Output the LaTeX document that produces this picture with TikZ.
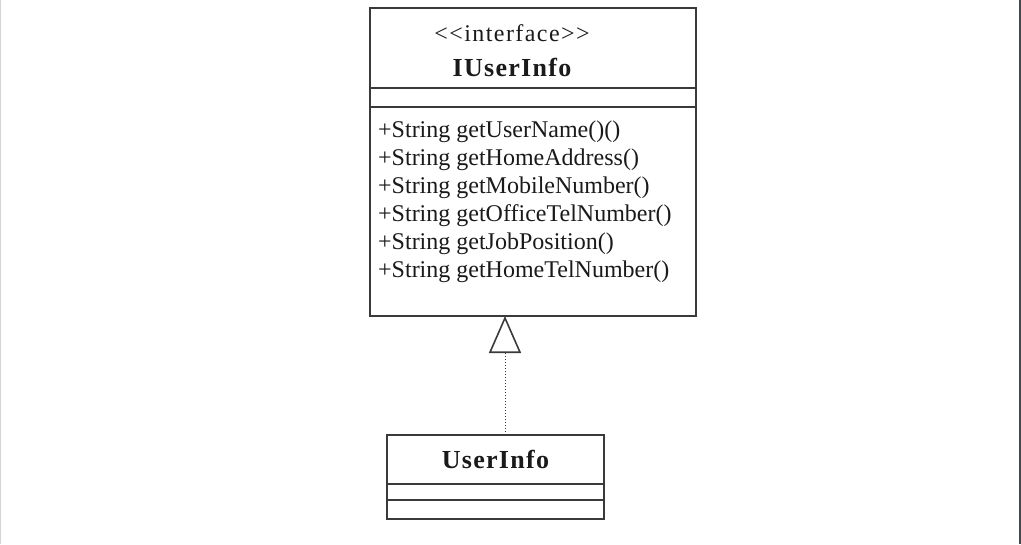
\documentclass[tikz,border=0pt]{standalone}
\usepackage{xcolor}
\usepackage{fontspec}
\setmainfont{Liberation Serif}
\usetikzlibrary{positioning,arrows.meta}
\definecolor{UInk}{HTML}{1A1A1A}
\definecolor{ULine}{HTML}{3A3A3A}
\definecolor{UFrame}{HTML}{D4D4D4}
\definecolor{UEdge}{HTML}{45484B}

\begin{document}
\begin{tikzpicture}[x=1pt, y=-1pt,
  classbox/.style={draw=ULine, line width=1.5pt, minimum width=#1, inner sep=0pt, outer sep=0pt},
  realize/.style={draw=ULine, line width=0.9pt, dash pattern=on 1pt off 2pt,
    -{Triangle[open, length=37pt, width=32pt, line width=1.6pt, sep=0pt]}}]
  \useasboundingbox (0,0) rectangle (1021,544);
  \draw[draw=UFrame, line width=1pt] (0.5,0) -- (0.5,544);
  \draw[draw=UEdge, line width=2pt] (1019.5,0) -- (1019.5,544);

  % interface
  \node[classbox=326pt, minimum height=80pt, anchor=north west] (iname) at (370,8) {};
  \node[classbox=326pt, minimum height=19pt, below=0pt of iname] (iattr) {};
  \node[classbox=326pt, minimum height=209pt, below=0pt of iattr] (iops) {};
  \node[font=\fontsize{24}{24}\selectfont\addfontfeature{LetterSpace=6}, text=UInk] (istereo) at (512,33) {<{}<interface>{}>};
  \node[font=\fontsize{26}{26}\selectfont\bfseries\addfontfeature{LetterSpace=5}, text=UInk] (ititle) at (512,67) {IUserInfo};
  \node[anchor=north west, align=left, inner sep=0pt, text=UInk,
        font=\fontsize{24}{28}\selectfont] (iopstext) at (378,121)
    {+String getUserName()()\\
     +String getHomeAddress()\\
     +String getMobileNumber()\\
     +String getOfficeTelNumber()\\
     +String getJobPosition()\\
     +String getHomeTelNumber()};

  % class
  \node[classbox=217pt, minimum height=49pt, anchor=north west, text=UInk,
        font=\fontsize{26}{26}\selectfont\bfseries\addfontfeature{LetterSpace=5}] (uname) at (387,435) {UserInfo};
  \node[classbox=217pt, minimum height=16pt, below=0pt of uname] (uattr) {};
  \node[classbox=217pt, minimum height=19pt, below=0pt of uattr] (uops) {};

  \draw[realize] ([xshift=9.5pt]uname.north) -- ([xshift=-28pt]iops.south);
\end{tikzpicture}
\end{document}
